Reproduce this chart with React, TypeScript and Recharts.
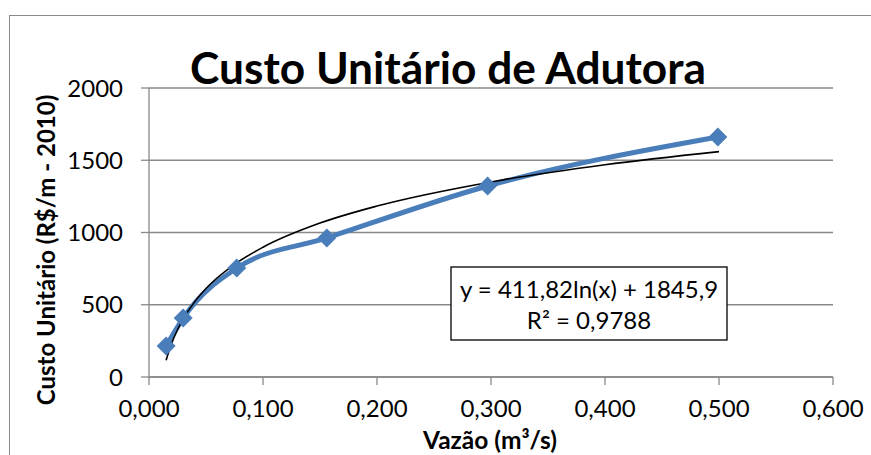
import React from 'react';
import { LineChart, Line, XAxis, YAxis, CartesianGrid } from 'recharts';

// valores
const vazao = [0.015, 0.03, 0.077, 0.156, 0.297, 0.499];
const custo = [214, 408, 754, 962, 1322, 1661];

// linha de tendência logarítmica
const trendX = [0.015, 0.02, 0.025, 0.03, 0.04, 0.05, 0.075, 0.1, 0.15, 0.2, 0.3, 0.4, 0.5];
const trendY = [116, 235, 327, 402, 520, 612, 779, 898, 1065, 1183, 1350, 1469, 1560];

const xTicks = [0, 0.1, 0.2, 0.3, 0.4, 0.5, 0.6];
const yTicks = [0, 500, 1000, 1500, 2000];

const pontos = vazao.map((x, i) => ({ x, y: custo[i] }));
const tendencia = trendX.map((x, i) => ({ x, y: trendY[i] }));

const FONT = 'Lato, "Open Sans", sans-serif';
const GRID = '#898989';
const BLUE = '#4A7EBB';

const Diamond = (props: any) => {
  const { cx, cy } = props;
  if (cx == null || cy == null) return null;
  const r = 9.5;
  return (
    <polygon
      points={`${cx},${cy - r} ${cx + r},${cy} ${cx},${cy + r} ${cx - r},${cy}`}
      fill={BLUE}
    />
  );
};

const fmtX = (v: number) => v.toFixed(3).replace('.', ',');

export default function App() {
  return (
    <div style={{ position: 'absolute', left: 0, top: 0, width: 871, height: 455, background: '#fff', overflow: 'hidden', fontFamily: FONT }}>
      <div style={{ position: 'absolute', left: 9, top: 15, width: 900, height: 500, borderLeft: '1.5px solid #8a8a8a', borderTop: '1.5px solid #8a8a8a' }} />
      <LineChart width={871} height={455} margin={{ top: 88, right: 38, bottom: 0, left: 0 }} style={{ position: 'absolute', left: 0, top: 0 }}>
        <CartesianGrid vertical={false} stroke={GRID} strokeWidth={1.3} />
        <XAxis
          type="number"
          dataKey="x"
          domain={[0, 0.6]}
          ticks={xTicks}
          tickFormatter={fmtX}
          height={78}
          stroke={GRID}
          strokeWidth={1.3}
          tickSize={8}
          tickMargin={15}
          tick={{ fill: '#000', fontSize: 24, fontFamily: FONT }}
          allowDataOverflow
        />
        <YAxis
          type="number"
          dataKey="y"
          domain={[0, 2000]}
          ticks={yTicks}
          width={149}
          stroke={GRID}
          strokeWidth={1.3}
          tickSize={8}
          tickMargin={18}
          tick={{ fill: '#000', fontSize: 24, fontFamily: FONT }}
          allowDataOverflow
        />
        <Line
          data={pontos}
          dataKey="y"
          type="monotone"
          stroke={BLUE}
          strokeWidth={5}
          dot={<Diamond />}
          activeDot={false}
          isAnimationActive={false}
        />
        <Line
          data={tendencia}
          dataKey="y"
          type="monotone"
          stroke="#000"
          strokeWidth={1.6}
          dot={false}
          activeDot={false}
          isAnimationActive={false}
        />
      </LineChart>
      <svg width={871} height={455} style={{ position: 'absolute', left: 0, top: 0, pointerEvents: 'none' }}>
        <text x={448} y={84} textAnchor="middle" fontFamily={FONT} fontWeight="bold" fontSize={43} fill="#000" textLength={516} lengthAdjust="spacingAndGlyphs">
          Custo Unitário de Adutora
        </text>
        <text x={490} y={449} textAnchor="middle" fontFamily={FONT} fontWeight="bold" fontSize={24.5} fill="#000">
          Vazão (m³/s)
        </text>
        <text
          x={0}
          y={0}
          transform="translate(55,250) rotate(-90)"
          textAnchor="middle"
          fontFamily={FONT}
          fontWeight="bold"
          fontSize={24}
          fill="#000"
        >
          Custo Unitário (R$/m - 2010)
        </text>
        <rect x={451} y={267} width={276} height={73} fill="#fff" stroke="#000" strokeWidth={1.3} />
        <text x={589} y={298} textAnchor="middle" fontFamily={FONT} fontSize={24} fill="#000">
          y = 411,82ln(x) + 1845,9
        </text>
        <text x={589} y={329} textAnchor="middle" fontFamily={FONT} fontSize={24} fill="#000">
          R² = 0,9788
        </text>
      </svg>
    </div>
  );
}
